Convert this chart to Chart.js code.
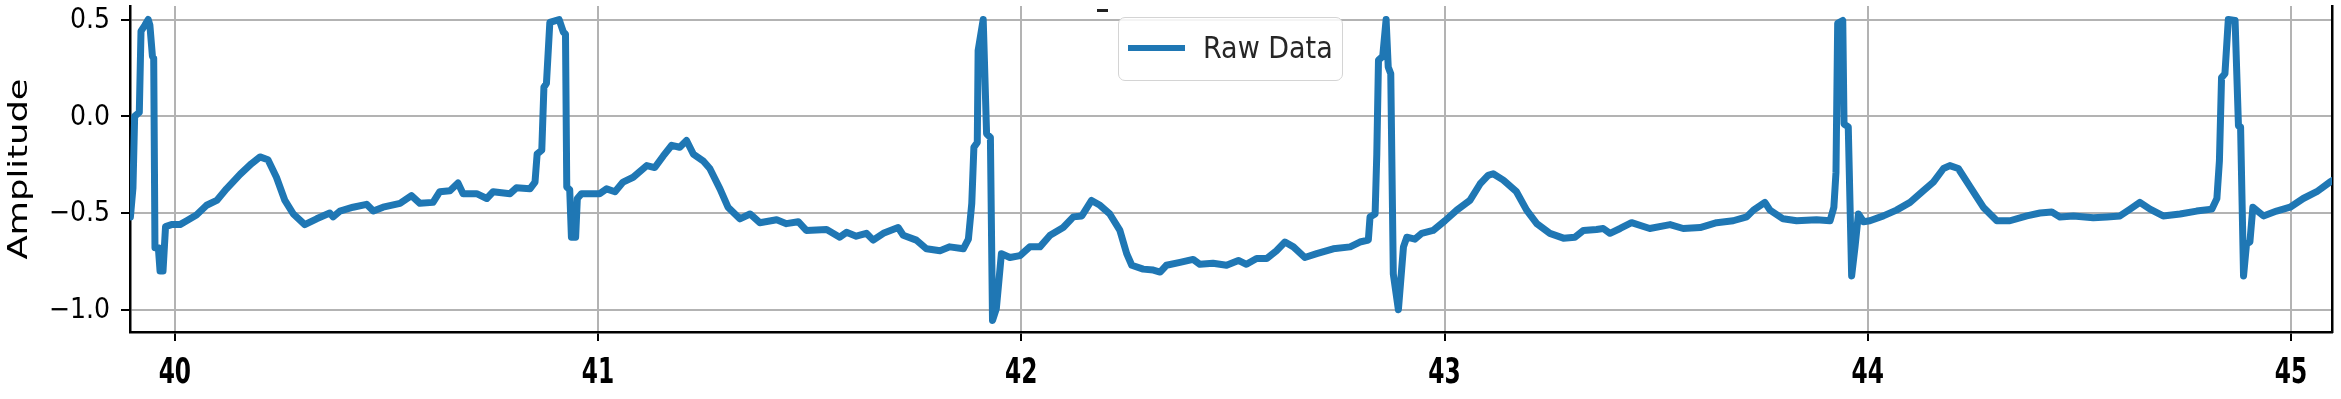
<!DOCTYPE html>
<html>
<head>
<meta charset="utf-8">
<title>Raw Data</title>
<script src="https://cdn.jsdelivr.net/npm/chart.js@4.4.1/dist/chart.umd.min.js"></script>
<style>
  html, body { margin: 0; padding: 0; background: #fff; }
  #wrap { position: relative; width: 2341px; height: 399px; }
  #legend {
    position: absolute; left: 1118px; top: 17px; width: 225px; height: 64px;
    box-sizing: border-box; border: 1.5px solid #d4d4d4; border-radius: 7px;
    background: rgba(255, 255, 255, 0.85);
  }
  #legend .swatch { position: absolute; left: 9px; top: 27px; width: 57px; height: 6px; background: #1f77b4; }
  #legend .label {
    position: absolute; left: 84px; top: 8px; line-height: 44px;
    font-family: "DejaVu Sans Condensed", "DejaVu Sans", sans-serif; font-size: 30px; color: #262626;
  }
  #dash { position: absolute; left: 1097px; top: 9px; width: 11px; height: 3px; background: #222; }
</style>
</head>
<body>
<div id="wrap">
  <canvas id="ecgChart" width="2341" height="399"></canvas>
  <div id="dash"></div>
  <div id="legend"><div class="swatch"></div><div class="label" id="legendLabel"></div></div>
</div>
<script>
// ── data ────────────────────────────────────────────────────────────────

const seriesLabel = "Raw Data";
const yTitle = "Amplitude";
const xTicks = [40, 41, 42, 43, 44, 45];
const yTicks = [-1.0, -0.5, 0.0, 0.5];

const times = [
  39.895, 39.901, 39.905, 39.916, 39.920, 39.929, 39.937, 39.941, 39.947, 39.950,
  39.953, 39.961, 39.965, 39.972, 39.978, 39.992, 40.012, 40.028, 40.051, 40.075,
  40.099, 40.122, 40.154, 40.181, 40.201, 40.220, 40.240, 40.260, 40.280, 40.307,
  40.335, 40.366, 40.374, 40.390, 40.421, 40.453, 40.469, 40.492, 40.532, 40.559,
  40.579, 40.610, 40.626, 40.650, 40.669, 40.681, 40.713, 40.737, 40.752, 40.792,
  40.807, 40.839, 40.851, 40.856, 40.867, 40.872, 40.878, 40.886, 40.908, 40.918,
  40.923, 40.926, 40.933, 40.937, 40.947, 40.951, 40.961, 41.004, 41.020, 41.040,
  41.059, 41.083, 41.115, 41.134, 41.154, 41.174, 41.193, 41.209, 41.225, 41.248,
  41.264, 41.288, 41.307, 41.335, 41.359, 41.382, 41.422, 41.445, 41.473, 41.492,
  41.540, 41.571, 41.587, 41.610, 41.634, 41.650, 41.674, 41.709, 41.721, 41.752,
  41.776, 41.808, 41.831, 41.863, 41.875, 41.883, 41.888, 41.896, 41.898, 41.910,
  41.918, 41.927, 41.932, 41.941, 41.953, 41.973, 41.997, 42.020, 42.044, 42.068,
  42.099, 42.123, 42.143, 42.166, 42.186, 42.209, 42.233, 42.249, 42.261, 42.288,
  42.312, 42.328, 42.343, 42.375, 42.406, 42.422, 42.453, 42.485, 42.513, 42.532,
  42.556, 42.580, 42.603, 42.623, 42.643, 42.670, 42.698, 42.737, 42.777, 42.800,
  42.820, 42.824, 42.836, 42.840, 42.844, 42.854, 42.862, 42.867, 42.873, 42.879,
  42.891, 42.903, 42.911, 42.930, 42.946, 42.973, 43.001, 43.029, 43.060, 43.084,
  43.103, 43.115, 43.139, 43.170, 43.194, 43.218, 43.249, 43.281, 43.308, 43.328,
  43.359, 43.375, 43.391, 43.415, 43.442, 43.485, 43.533, 43.564, 43.604, 43.643,
  43.682, 43.714, 43.730, 43.757, 43.769, 43.800, 43.832, 43.879, 43.911, 43.920,
  43.925, 43.929, 43.941, 43.944, 43.954, 43.962, 43.970, 43.978, 43.990, 44.005,
  44.037, 44.068, 44.100, 44.131, 44.155, 44.179, 44.194, 44.214, 44.242, 44.273,
  44.305, 44.336, 44.376, 44.407, 44.435, 44.454, 44.486, 44.533, 44.565, 44.596,
  44.620, 44.643, 44.667, 44.698, 44.738, 44.777, 44.813, 44.825, 44.831, 44.836,
  44.844, 44.852, 44.868, 44.876, 44.881, 44.888, 44.895, 44.903, 44.910, 44.935,
  44.966, 44.998, 45.029, 45.061, 45.092, 45.100,
];

const amplitudes = [
  -0.52, -0.37, 0.00, 0.02, 0.44, 0.47, 0.50, 0.47, 0.31, 0.30,
  -0.68, -0.68, -0.80, -0.80, -0.57, -0.56, -0.56, -0.54, -0.51, -0.46,
  -0.435, -0.375, -0.30, -0.245, -0.21, -0.225, -0.315, -0.435, -0.505, -0.56,
  -0.53, -0.50, -0.52, -0.49, -0.47, -0.455, -0.49, -0.47, -0.45, -0.41,
  -0.45, -0.445, -0.39, -0.385, -0.345, -0.40, -0.40, -0.425, -0.39, -0.40,
  -0.37, -0.375, -0.34, -0.195, -0.175, 0.15, 0.17, 0.485, 0.50, 0.435,
  0.425, -0.365, -0.38, -0.625, -0.625, -0.425, -0.40, -0.40, -0.375, -0.39,
  -0.34, -0.315, -0.255, -0.265, -0.205, -0.15, -0.16, -0.125, -0.195, -0.23,
  -0.27, -0.375, -0.47, -0.53, -0.505, -0.55, -0.535, -0.555, -0.545, -0.59,
  -0.585, -0.625, -0.60, -0.62, -0.605, -0.64, -0.605, -0.575, -0.615, -0.64,
  -0.685, -0.695, -0.675, -0.685, -0.635, -0.45, -0.16, -0.135, 0.34, 0.50,
  -0.09, -0.11, -1.055, -0.995, -0.71, -0.73, -0.72, -0.675, -0.675, -0.615,
  -0.575, -0.52, -0.515, -0.435, -0.46, -0.505, -0.59, -0.71, -0.77, -0.79,
  -0.795, -0.805, -0.77, -0.755, -0.74, -0.765, -0.76, -0.77, -0.745, -0.765,
  -0.735, -0.735, -0.695, -0.65, -0.675, -0.73, -0.71, -0.685, -0.675, -0.65,
  -0.64, -0.52, -0.505, -0.195, 0.29, 0.31, 0.50, 0.255, 0.22, -0.815,
  -1.00, -0.675, -0.625, -0.635, -0.605, -0.59, -0.54, -0.485, -0.435, -0.35,
  -0.305, -0.297, -0.33, -0.39, -0.485, -0.555, -0.605, -0.63, -0.625, -0.59,
  -0.585, -0.58, -0.605, -0.58, -0.55, -0.58, -0.56, -0.58, -0.575, -0.55,
  -0.54, -0.52, -0.485, -0.445, -0.485, -0.53, -0.54, -0.535, -0.54, -0.47,
  -0.29, 0.48, 0.495, -0.04, -0.055, -0.825, -0.675, -0.505, -0.545, -0.54,
  -0.515, -0.485, -0.445, -0.385, -0.34, -0.27, -0.255, -0.27, -0.365, -0.47,
  -0.54, -0.54, -0.515, -0.50, -0.495, -0.52, -0.515, -0.525, -0.52, -0.515,
  -0.48, -0.445, -0.48, -0.515, -0.505, -0.49, -0.48, -0.425, -0.23, 0.20,
  0.22, 0.50, 0.495, -0.05, -0.055, -0.825, -0.66, -0.65, -0.47, -0.515,
  -0.49, -0.47, -0.425, -0.39, -0.34, -0.33,
];

// ── chart ───────────────────────────────────────────────────────────────

const tickFont = "'DejaVu Sans Condensed', 'DejaVu Sans', sans-serif";
const gridColor = "#b3b3b3";

document.getElementById("legendLabel").textContent = seriesLabel;

function fmtAmp(v) {
  const s = Math.abs(v).toFixed(1);
  return v < 0 ? "\u2212" + s : s;
}

// the source figure was stretched vertically, so its text is tall and narrow;
// draw tick labels and the axis title ourselves to copy that look
const axisText = {
  id: "axisText",
  afterDraw(chart) {
    const { ctx, chartArea } = chart;
    const xScale = chart.scales.x;
    const yScale = chart.scales.y;
    ctx.save();
    ctx.fillStyle = "#000";

    ctx.font = "bold 36px " + tickFont;
    ctx.textAlign = "center";
    ctx.textBaseline = "alphabetic";
    xTicks.forEach((v) => {
      ctx.save();
      ctx.translate(xScale.getPixelForValue(v), 383);
      ctx.scale(0.72, 1);
      ctx.fillText(String(v), 0, 0);
      ctx.restore();
    });

    ctx.font = "28px " + tickFont;
    ctx.textAlign = "right";
    ctx.textBaseline = "middle";
    yTicks.forEach((v) => {
      ctx.fillText(fmtAmp(v), 110, yScale.getPixelForValue(v) + 1);
    });

    ctx.save();
    ctx.translate(20, (chartArea.top + chartArea.bottom) / 2);
    ctx.rotate(-Math.PI / 2);
    ctx.scale(1.36, 1);
    ctx.font = "26px 'DejaVu Sans', sans-serif";
    ctx.textAlign = "center";
    ctx.textBaseline = "middle";
    ctx.fillText(yTitle, 0, 0);
    ctx.restore();

    ctx.restore();
  },
};

new Chart(document.getElementById("ecgChart"), {
  type: "line",
  data: {
    datasets: [
      {
        label: seriesLabel,
        data: times.map((t, i) => ({ x: t, y: amplitudes[i] })),
        borderColor: "#1f77b4",
        borderWidth: 7,
        pointRadius: 0,
        tension: 0,
        borderJoinStyle: "round",
        borderCapStyle: "round",
        fill: false,
      },
    ],
  },
  options: {
    responsive: false,
    animation: false,
    devicePixelRatio: 1,
    layout: { padding: { top: 6, left: 0, right: 0, bottom: 0 } },
    plugins: { legend: { display: false }, tooltip: { enabled: false } },
    scales: {
      x: {
        type: "linear",
        min: 39.894,
        max: 45.097,
        afterBuildTicks: (axis) => { axis.ticks = xTicks.map((v) => ({ value: v })); },
        afterFit: (scale) => { scale.height = 67; },
        grid: { color: gridColor, lineWidth: 2, tickColor: "#000", tickLength: 9 },
        border: { display: true, color: "#000", width: 2.5 },
        ticks: { display: false },
      },
      y: {
        min: -1.115,
        max: 0.57,
        afterBuildTicks: (axis) => { axis.ticks = yTicks.map((v) => ({ value: v })); },
        afterFit: (scale) => { scale.width = 130; },
        grid: { color: gridColor, lineWidth: 2, tickColor: "#000", tickLength: 9 },
        border: { display: true, color: "#000", width: 2.5 },
        ticks: { display: false },
      },
      yRight: {
        position: "right",
        min: -1.115,
        max: 0.57,
        afterFit: (scale) => { scale.width = 9; },
        grid: { display: false },
        ticks: { display: false },
        border: { display: true, color: "#000", width: 2.5 },
      },
    },
  },
  plugins: [axisText],
});
</script>
</body>
</html>
